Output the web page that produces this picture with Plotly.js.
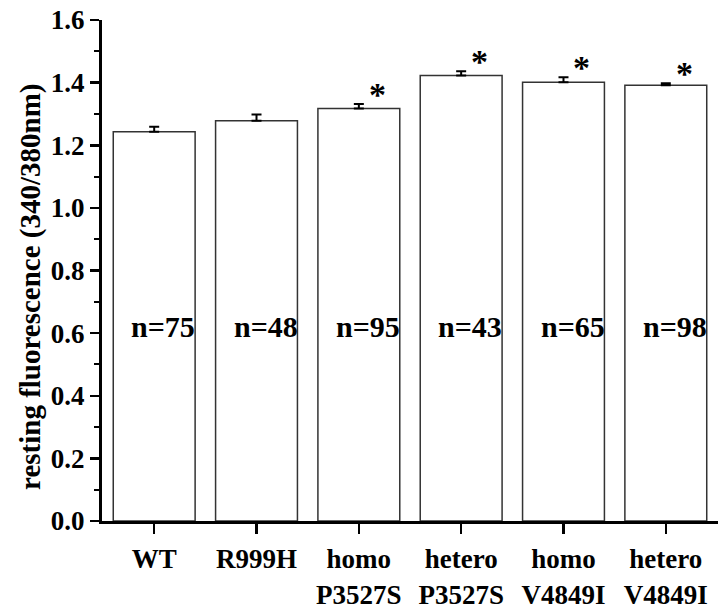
<!DOCTYPE html>
<html>
<head>
<meta charset="utf-8">
<script src="https://cdn.plot.ly/plotly-3.0.1.min.js"></script>
<style>html,body{margin:0;padding:0;background:#fff;}#chart{width:725px;height:614px;}</style>
</head>
<body>
<div id="chart"></div>
<script>
var categories = ["WT", "R999H", "homo<br>P3527S", "hetero<br>P3527S", "homo<br>V4849I", "hetero<br>V4849I"];
var means = [1.243, 1.278, 1.317, 1.423, 1.401, 1.392];
var sem = [0.016, 0.020, 0.015, 0.013, 0.016, 0.006];
var nLabels = ["n=75", "n=48", "n=95", "n=43", "n=65", "n=98"];
var significant = [false, false, true, true, true, true];
var yTitle = "resting fluorescence (340/380nm)";

var xIdx = categories.map(function(c, i){ return i; });
var font = "Liberation Serif, Times New Roman, serif";

var trace = {
  type: 'bar',
  x: xIdx,
  y: means,
  width: 0.8,
  marker: {color: '#ffffff', line: {color: '#333333', width: 1.5}},
  error_y: {type: 'data', array: sem, arrayminus: sem.map(function(){return 0;}), symmetric: false,
            color: '#000000', thickness: 2, width: 5},
  hoverinfo: 'none'
};

var annotations = [];
nLabels.forEach(function(t, i){
  annotations.push({x: i + 0.09, y: 0.622, xref: 'x', yref: 'y', text: '<b>' + t + '</b>', showarrow: false,
    font: {family: font, size: 30, color: '#000'}});
});
significant.forEach(function(s, i){
  if (!s) return;
  annotations.push({x: i + 0.18, y: means[i] + sem[i] - 0.035, xref: 'x', yref: 'y', text: '<b>*</b>', showarrow: false,
    yanchor: 'bottom', font: {family: font, size: 34, color: '#000'}});
});
annotations.push({x: -0.117, y: 0.467, xref: 'paper', yref: 'paper', xanchor: 'center', yanchor: 'middle',
  text: '<b>' + yTitle + '</b>', textangle: -90, showarrow: false,
  font: {family: font, size: 29, color: '#000'}});

var layout = {
  width: 725, height: 614,
  margin: {l: 102, r: 7, t: 20, b: 93},
  paper_bgcolor: '#fff', plot_bgcolor: '#fff',
  showlegend: false,
  font: {family: font, color: '#000'},
  xaxis: {
    range: [-0.51, 5.51],
    tickmode: 'array', tickvals: xIdx, ticktext: categories.map(function(c){ return '<b>' + c.replace('<br>', '</b><br><b>') + '</b>'; }),
    showline: true, linecolor: '#000', linewidth: 3,
    ticks: 'outside', ticklen: 10, tickwidth: 2.5, tickcolor: '#000',
    ticklabelstandoff: 2,
    showgrid: false, zeroline: false,
    tickfont: {family: font, size: 27, color: '#000'}
  },
  yaxis: {
    range: [0, 1.6],
    tickmode: 'linear', tick0: 0, dtick: 0.2, tickformat: '.1f', tickprefix: '<b>', ticksuffix: '</b>',
    showline: true, linecolor: '#000', linewidth: 3,
    ticks: 'outside', ticklen: 9, tickwidth: 2.5, tickcolor: '#000',
    minor: {dtick: 0.1, ticks: 'outside', ticklen: 5, tickwidth: 2, tickcolor: '#000', showgrid: false},
    showgrid: false, zeroline: false,
    tickfont: {family: font, size: 27, color: '#000'}
  },
  annotations: annotations
};

Plotly.newPlot('chart', [trace], layout, {displayModeBar: false, staticPlot: true});
</script>
</body>
</html>
